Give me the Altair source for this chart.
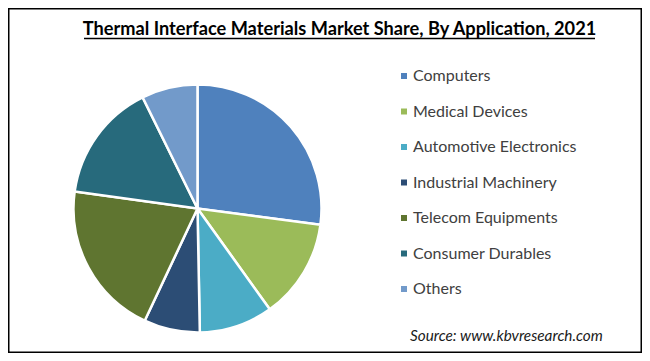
import altair as alt
import pandas as pd

categories = ["Computers", "Medical Devices", "Automotive Electronics",
              "Industrial Machinery", "Telecom Equipments", "Consumer Durables", "Others"]
shares = [27.1, 13.0, 9.6, 7.3, 20.2, 15.5, 7.3]
colors = ["#4F81BD", "#9BBB59", "#4BACC6", "#2C4D75", "#5F7530", "#276A7C", "#729ACA"]
title_text = "Thermal Interface Materials Market Share, By Application, 2021"
source_text = "Source: www.kbvresearch.com"

df = pd.DataFrame({"category": categories, "share": shares, "order": list(range(len(categories)))})

FONT = "Lato"

pie = alt.Chart(df).mark_arc(stroke="white", strokeWidth=2.5, radius=124).encode(
    theta=alt.Theta("share:Q", stack=True),
    order=alt.Order("order:Q"),
    color=alt.Color(
        "category:N",
        scale=alt.Scale(domain=categories, range=colors),
        sort=categories,
        legend=alt.Legend(
            title=None,
            orient="none",
            legendX=388,
            legendY=60,
            symbolType="square",
            symbolSize=36,
            symbolStrokeWidth=0,
            labelFont=FONT,
            labelFontSize=16,
            labelColor="#404040",
            labelOffset=1,
            rowPadding=19.5,
            labelLimit=300,
        ),
    ),
    x=alt.value(189.5),
    y=alt.value(200.5),
)

title = alt.Chart(pd.DataFrame({"t": [title_text]})).mark_text(
    font=FONT, fontSize=18.2, fontWeight="bold", color="#000000", align="center", baseline="alphabetic"
).encode(text="t:N", x=alt.value(331.5), y=alt.value(27))

underline = alt.Chart(pd.DataFrame({"a": [0]})).mark_rule(color="#000000", strokeWidth=1.5).encode(
    x=alt.value(76), x2=alt.value(587), y=alt.value(30.5)
)

source = alt.Chart(pd.DataFrame({"t": [source_text]})).mark_text(
    font=FONT, fontSize=15.3, fontStyle="italic", color="#1a1a1a", align="left", baseline="alphabetic"
).encode(text="t:N", x=alt.value(402), y=alt.value(333))

chart = alt.layer(pie, underline, title, source).properties(
    width=634, height=345, padding=0, autosize=alt.AutoSizeParams(type="none"),
    background="white",
).configure_view(stroke="#000000", strokeWidth=3)

chart.save("out.html", embed_options={"renderer": "svg", "actions": False})
